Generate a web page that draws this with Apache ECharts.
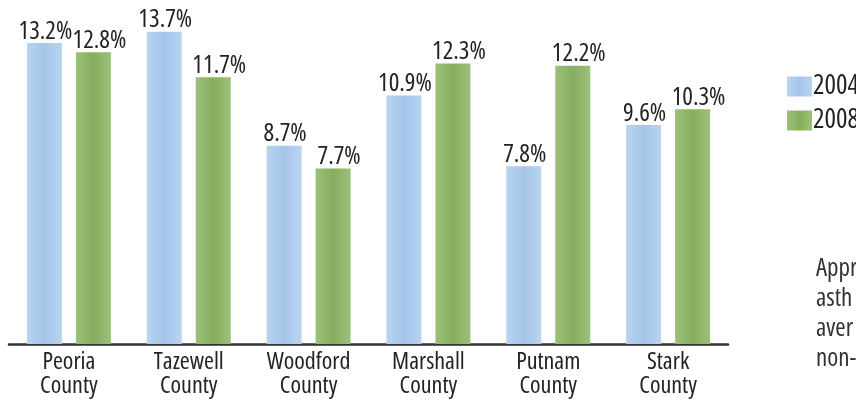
<!DOCTYPE html>
<html>
<head>
<meta charset="utf-8">
<script src="https://cdn.jsdelivr.net/npm/echarts@6/dist/echarts.min.js"></script>
<style>
  html, body { margin: 0; padding: 0; background: #fff; }
  #chart { width: 856px; height: 404px; }
</style>
</head>
<body>
<div id="chart"></div>
<script>
  // data
  const counties = ['Peoria\nCounty', 'Tazewell\nCounty', 'Woodford\nCounty', 'Marshall\nCounty', 'Putnam\nCounty', 'Stark\nCounty'];
  const rate2004 = [13.2, 13.7, 8.7, 10.9, 7.8, 9.6];
  const rate2008 = [12.8, 11.7, 7.7, 12.3, 12.2, 10.3];
  const sideNote = ['Appr', 'asth', 'aver', 'non-'];

  // Open Sans is variable, so the "condensed" stretch in the canvas font string works
  const narrow = { fontFamily: '"Open Sans", sans-serif', fontStyle: 'normal', fontWeight: 'condensed' };

  const blue = new echarts.graphic.LinearGradient(0, 0, 1, 0, [
    { offset: 0, color: '#b9d4f0' },
    { offset: 0.5, color: '#a4c5ea' },
    { offset: 1, color: '#b9d4f0' }
  ]);
  const green = new echarts.graphic.LinearGradient(0, 0, 1, 0, [
    { offset: 0, color: '#9cc07a' },
    { offset: 0.5, color: '#86ae5e' },
    { offset: 1, color: '#9cc07a' }
  ]);

  const chart = echarts.init(document.getElementById('chart'));

  const valueLabel = (dx) => Object.assign({
    show: true,
    position: 'top',
    distance: -1,
    offset: [dx, 0],
    formatter: p => p.value.toFixed(1) + '%',
    fontSize: 25,
    color: '#222'
  }, narrow);

  const option = {
    animation: false,
    grid: { left: 9, right: 128, top: 2, bottom: 60 },
    legend: {
      orient: 'vertical',
      left: 782,
      top: 68,
      itemWidth: 25,
      itemHeight: 20,
      itemGap: 7,
      icon: 'rect',
      textStyle: Object.assign({ fontSize: 27, color: '#222', padding: [0, 0, 0, -4] }, narrow),
      data: ['2004', '2008']
    },
    xAxis: {
      type: 'category',
      data: counties,
      axisLine: { lineStyle: { color: '#333', width: 2.5 } },
      axisTick: { show: false },
      axisLabel: Object.assign({
        fontSize: 24,
        lineHeight: 24,
        color: '#222',
        margin: 6,
        interval: 0
      }, narrow)
    },
    yAxis: {
      type: 'value',
      min: 0,
      max: 15,
      show: false,
      splitLine: { show: false }
    },
    series: [
      {
        name: '2004',
        type: 'bar',
        data: rate2004,
        barWidth: 35,
        barGap: '40%',
        itemStyle: { color: blue },
        label: valueLabel(1)
      },
      {
        name: '2008',
        type: 'bar',
        data: rate2008,
        barWidth: 35,
        itemStyle: { color: green },
        label: valueLabel(6)
      }
    ],
    graphic: sideNote.map((t, i) => ({
      type: 'text',
      left: 816,
      top: 256 + i * 30,
      style: Object.assign({ text: t, fontSize: 25, fill: '#333' }, narrow)
    }))
  };

  chart.setOption(option);
</script>
</body>
</html>
